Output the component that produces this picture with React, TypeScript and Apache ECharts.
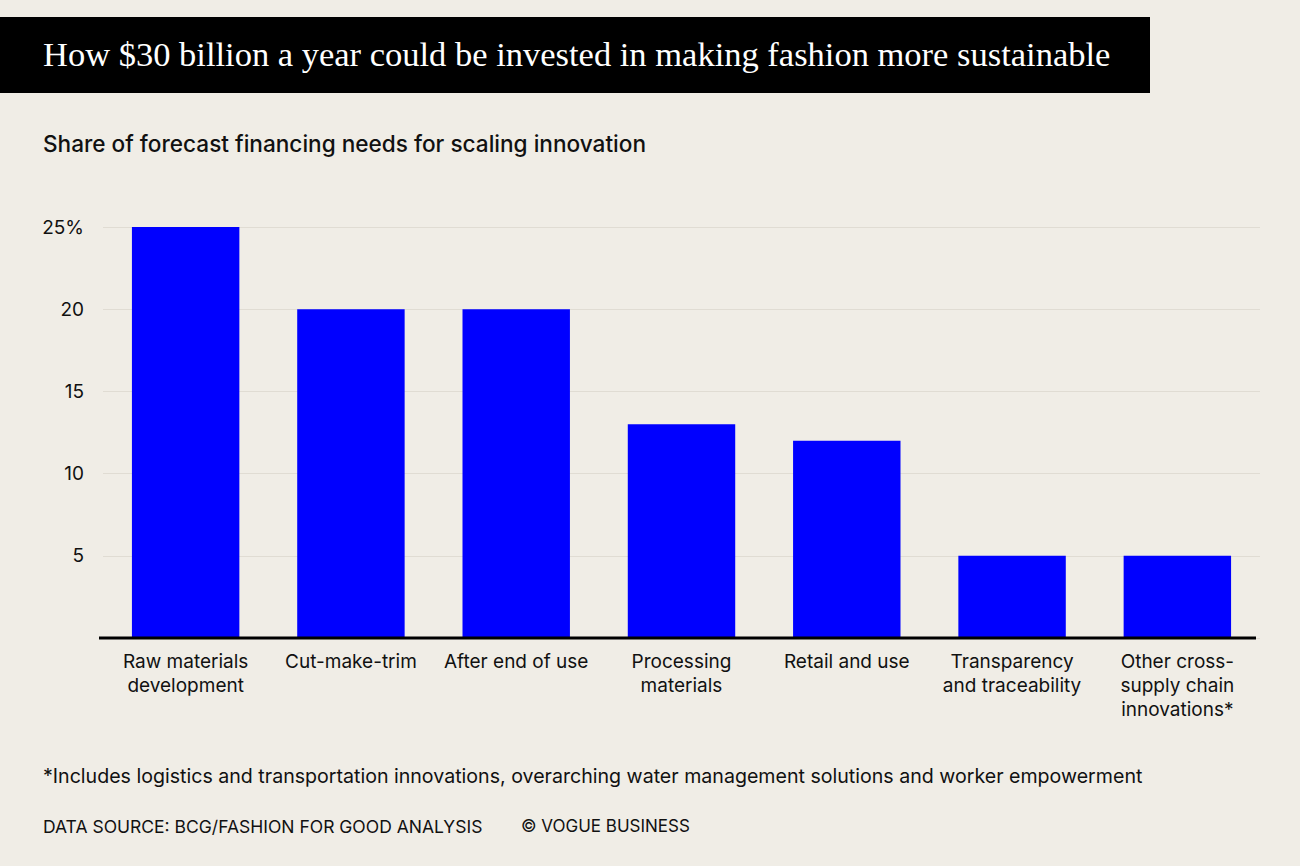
import React, { useEffect, useRef } from "react";
import * as echarts from "echarts";

const categories = [
  "Raw materials\ndevelopment",
  "Cut-make-trim",
  "After end of use",
  "Processing\nmaterials",
  "Retail and use",
  "Transparency\nand traceability",
  "Other cross-\nsupply chain\ninnovations*",
];
const shares = [25, 20, 20, 13, 12, 5, 5];
const yTicks = [0, 5, 10, 15, 20, 25];

const titleText = "How $30 billion a year could be invested in making fashion more sustainable";
const subtitleText = "Share of forecast financing needs for scaling innovation";
const footnoteText =
  "*Includes logistics and transportation innovations, overarching water management solutions and worker empowerment";
const sourceText = "DATA SOURCE: BCG/FASHION FOR GOOD ANALYSIS";
const creditText = "© VOGUE BUSINESS";

const SANS = "Inter, 'Noto Sans', sans-serif";

export default function App() {
  const ref = useRef<HTMLDivElement>(null);
  useEffect(() => {
    if (!ref.current) return;
    const chart = echarts.init(ref.current, undefined, { renderer: "svg" });
    chart.setOption({
      animation: false,
      backgroundColor: "#f0ede6",
      grid: { left: 103, right: 40, top: 227, bottom: 228, containLabel: false },
      xAxis: {
        type: "category",
        data: categories,
        axisLine: { show: false },
        axisTick: { show: false },
        axisLabel: {
          color: "#111",
          fontFamily: SANS,
          fontSize: 19,
          lineHeight: 24,
          margin: 11,
          interval: 0,
          verticalAlign: "top",
        },
      },
      yAxis: {
        type: "value",
        min: 0,
        max: 25,
        interval: 5,
        axisLine: { show: false },
        axisTick: { show: false },
        splitLine: { lineStyle: { color: "#e0dcd3", width: 1 } },
        axisLabel: {
          color: "#111",
          fontFamily: SANS,
          fontSize: 19,
          margin: 19,
          formatter: (v: number) =>
            v === yTicks[0] ? "" : v === yTicks[yTicks.length - 1] ? v + "%" : String(v),
        },
      },
      series: [
        {
          type: "bar",
          data: shares,
          barCategoryGap: "35%",
          itemStyle: { color: "#0000ff" },
        },
      ],
      graphic: [
        {
          type: "line",
          shape: { x1: 99, y1: 638, x2: 1256, y2: 638 },
          style: { stroke: "#000", lineWidth: 3 },
          z: 10,
        },
        {
          type: "rect",
          shape: { x: 0, y: 17, width: 1150, height: 76 },
          style: { fill: "#000" },
        },
        {
          type: "text",
          x: 43,
          y: 54,
          style: {
            text: titleText,
            fill: "#fff",
            font: "34.5px 'Liberation Serif', serif",
            verticalAlign: "middle",
          },
        },
        {
          type: "text",
          x: 43,
          y: 143,
          style: {
            text: subtitleText,
            fill: "#111",
            font: "500 22.6px " + SANS,
            verticalAlign: "middle",
          },
        },
        {
          type: "text",
          x: 43,
          y: 776,
          style: {
            text: footnoteText,
            fill: "#111",
            font: "19.6px " + SANS,
            verticalAlign: "middle",
          },
        },
        {
          type: "text",
          x: 43,
          y: 826,
          style: {
            text: sourceText,
            fill: "#111",
            font: "17.5px " + SANS,
            verticalAlign: "middle",
          },
        },
        {
          type: "text",
          x: 521,
          y: 826,
          style: {
            text: creditText,
            fill: "#111",
            font: "17px " + SANS,
            verticalAlign: "middle",
          },
        },
      ],
    });
    return () => chart.dispose();
  }, []);
  return (
    <div
      ref={ref}
      style={{ position: "fixed", left: 0, top: 0, width: 1300, height: 866 }}
    />
  );
}
